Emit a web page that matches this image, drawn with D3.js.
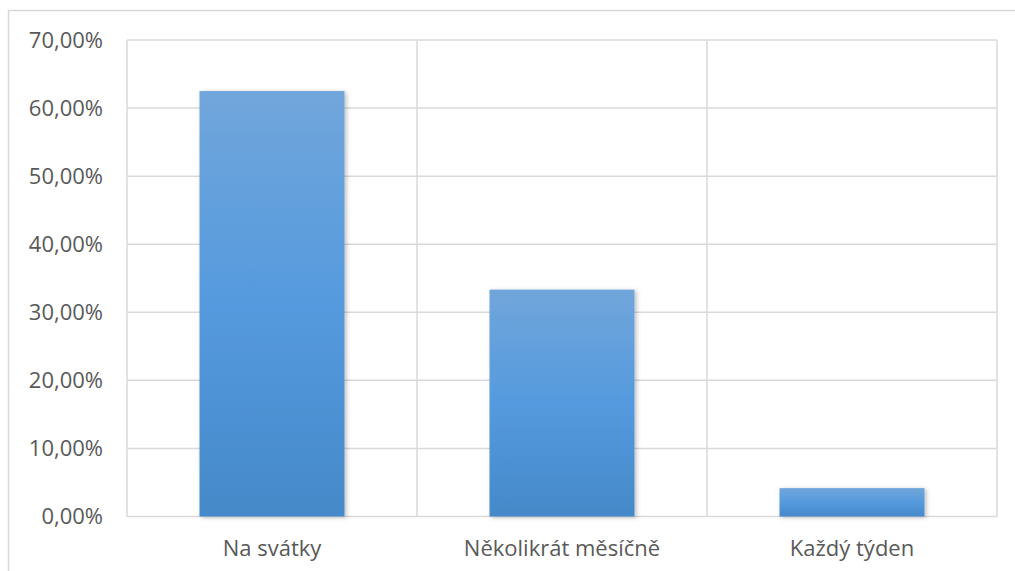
<!DOCTYPE html>
<html><head><meta charset="utf-8">
<script src="https://cdn.jsdelivr.net/npm/d3@7"></script>
<style>body{margin:0;background:#fff}svg{display:block}</style>
</head><body>
<script>
const categories = ["Na svátky", "Několikrát měsíčně", "Každý týden"];
const values = [62.5, 33.33, 4.17];
const yTicks = [0, 10, 20, 30, 40, 50, 60, 70];

(function () {
const W = 1015, H = 571;
const svg = d3.select("body").append("svg").attr("width", W).attr("height", H);
const defs = svg.append("defs");
const grad = defs.append("linearGradient").attr("id", "g").attr("x1", 0).attr("y1", 0).attr("x2", 0).attr("y2", 1);
grad.append("stop").attr("offset", "0%").attr("stop-color", "#71a6db");
grad.append("stop").attr("offset", "50%").attr("stop-color", "#559ade");
grad.append("stop").attr("offset", "100%").attr("stop-color", "#4589c9");
const f = defs.append("filter").attr("id", "sh").attr("x", "-10%").attr("y", "-10%").attr("width", "130%").attr("height", "130%");
f.append("feDropShadow").attr("dx", 2).attr("dy", 1).attr("stdDeviation", 2).attr("flood-color", "#000").attr("flood-opacity", 0.25);

svg.append("path").attr("d", "M8.5,571 L8.5,10.5 L1015,10.5").attr("fill", "none").attr("stroke", "#d9d9d9").attr("stroke-width", 1.5);

const pLeft = 127, pRight = 997, pTop = 40, pBottom = 516.5;
const x = d3.scaleBand().domain(categories).range([pLeft, pRight]).paddingInner(0.5).paddingOuter(0.25);
const y = d3.scaleLinear().domain([0, 70]).range([pBottom, pTop]);

const g = svg.append("g");
g.selectAll("line.h").data(yTicks).join("line").attr("class", "h")
  .attr("x1", pLeft).attr("x2", pRight).attr("y1", d => y(d)).attr("y2", d => y(d))
  .attr("stroke", "#d9d9d9").attr("stroke-width", 1.5);
const bounds = [pLeft, ...categories.map(c => x(c) - x.step() * x.paddingInner() / 2 + x.step())];
g.selectAll("line.v").data(bounds).join("line").attr("class", "v")
  .attr("x1", d => d).attr("x2", d => d).attr("y1", pTop).attr("y2", pBottom)
  .attr("stroke", "#d9d9d9").attr("stroke-width", 1.5);

g.selectAll("rect.bar").data(values).join("rect").attr("class", "bar")
  .attr("x", (d, i) => x(categories[i])).attr("width", x.bandwidth())
  .attr("y", d => y(d)).attr("height", d => y(0) - y(d))
  .attr("fill", "url(#g)").attr("filter", "url(#sh)");

const fmt = d => d.toFixed(2).replace(".", ",") + "%";
g.selectAll("text.y").data(yTicks).join("text").attr("class", "y")
  .attr("x", 103).attr("y", d => y(d) + 7.5).attr("text-anchor", "end")
  .attr("font-family", "Open Sans, sans-serif").attr("font-size", 22).attr("fill", "#595959")
  .text(fmt);

g.selectAll("text.x").data(categories).join("text").attr("class", "x")
  .attr("x", d => x(d) + x.bandwidth() / 2).attr("y", 556).attr("text-anchor", "middle")
  .attr("font-family", "Open Sans, sans-serif").attr("font-size", 22).attr("fill", "#595959")
  .text(d => d);
})();
</script>
</body></html>
